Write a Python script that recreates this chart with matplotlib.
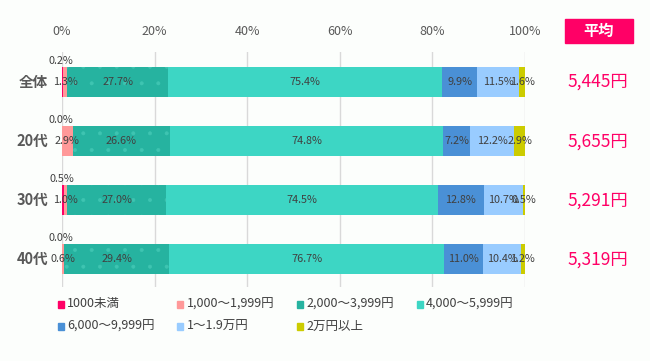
import numpy as np
import matplotlib
matplotlib.use('Agg')
import matplotlib.pyplot as plt
from matplotlib.patches import Rectangle

plt.rcParams['font.family'] = ['Noto Sans CJK JP', 'DejaVu Sans']
plt.rcParams['hatch.linewidth'] = 0.4

# Data
groups = ['全体', '20代', '30代', '40代']
bands = ['1000未満', '1,000～1,999円', '2,000～3,999円', '4,000～5,999円',
         '6,000～9,999円', '1～1.9万円', '2万円以上']
colors = ['#FF0066', '#FF9999', '#26B3A0', '#3DD6C4', '#4A90D6', '#99CCFF', '#CCCC00']
values = np.array([
    [0.2, 1.3, 27.7, 75.4, 9.9, 11.5, 1.6],
    [0.0, 2.9, 26.6, 74.8, 7.2, 12.2, 2.9],
    [0.5, 1.0, 27.0, 74.5, 12.8, 10.7, 0.5],
    [0.0, 0.6, 29.4, 76.7, 11.0, 10.4, 1.2],
])
averages = ['5,445円', '5,655円', '5,291円', '5,319円']

bg = '#FCFEFC'
txt = '#404040'

fig = plt.figure(figsize=(6.5, 3.61), dpi=100, facecolor=bg)
ax = fig.add_axes([62 / 650, 1 - 287 / 361, 463 / 650, 235 / 361])
ax.set_facecolor(bg)

# segments are drawn as share of each row's total, labels show raw values
shares = values / values.sum(axis=1, keepdims=True) * 100
y = np.arange(len(groups))
left = np.zeros(len(groups))
h = 0.51
for j, band in enumerate(bands):
    kw = {}
    if j == 2:
        kw = dict(hatch='.', edgecolor='#3EC4B1', linewidth=0)
    ax.barh(y, shares[:, j], left=left, height=h, color=colors[j], zorder=2, **kw)
    for i in range(len(groups)):
        lab = f'{values[i, j]:.1f}%'
        if j == 0:
            ax.text(left[i] + shares[i, j] / 2 - 0.3, y[i] - h / 2 - 0.02, lab,
                    ha='center', va='bottom', fontsize=7.8, color=txt, zorder=4)
        else:
            ax.text(left[i] + shares[i, j] / 2, y[i], lab,
                    ha='center', va='center', fontsize=7.8, color=txt, zorder=4)
    left += shares[:, j]

ax.set_xlim(0, 100)
ax.set_ylim(3.47, -0.51)
ax.set_xticks(np.arange(0, 101, 20))
ax.set_xticklabels([f'{v}%' for v in range(0, 101, 20)])
ax.xaxis.tick_top()
ax.tick_params(axis='x', length=0, pad=10, labelsize=9, labelcolor='#595959')
ax.set_yticks([])
ax.grid(axis='x', color='#D9D9D9', linewidth=1, zorder=0)
for s in ax.spines.values():
    s.set_visible(False)

for i, g in enumerate(groups):
    ax.text(-3, y[i], g, ha='right', va='center', fontsize=10.5,
            fontweight='bold', color='#595959')

# average column
fig.patches.append(Rectangle((565 / 650, 1 - 43 / 361), 68 / 650, 24 / 361,
                             transform=fig.transFigure, color='#FF0066'))
fig.text(599 / 650, 1 - 31 / 361, '平均', ha='center', va='center',
         fontsize=11, fontweight='bold', color='white')
for i, a in enumerate(averages):
    yy = ax.transData.transform((0, y[i]))[1]
    fig.text(598 / 650, fig.transFigure.inverted().transform((0, yy))[1], a,
             ha='center', va='center', fontsize=12.5, color='#FF0066')

# legend
for k, band in enumerate(bands):
    col, row = k % 4, k // 4
    x0 = (61 + col * 119.5) / 650
    y0 = 1 - (304 + row * 22) / 361
    fig.patches.append(Rectangle((x0 - 3 / 650, y0 - 3.5 / 361), 6 / 650, 7 / 361,
                                 transform=fig.transFigure, color=colors[k]))
    fig.text(x0 + 6 / 650, y0, band, ha='left', va='center', fontsize=9, color=txt)

fig.savefig('out.png', dpi=100, facecolor=bg)
